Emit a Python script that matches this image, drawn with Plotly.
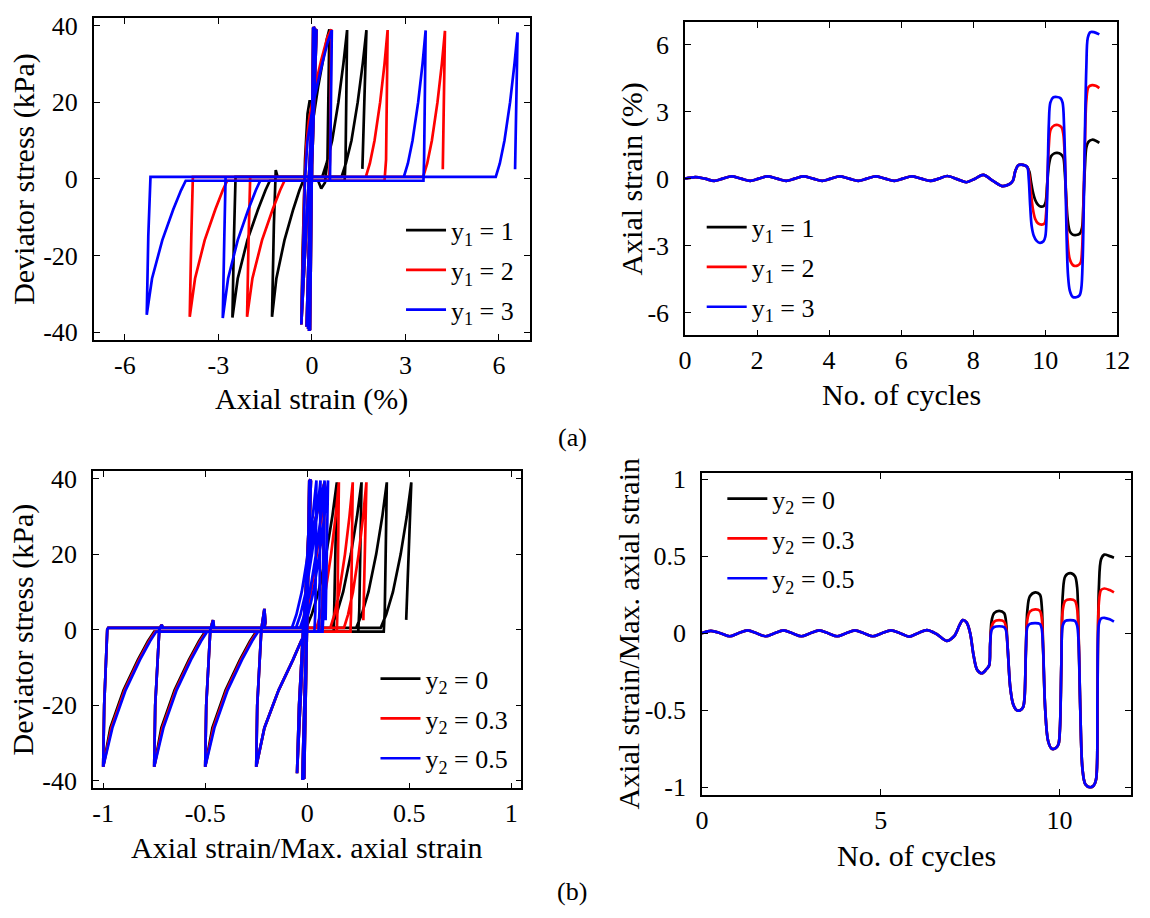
import plotly.graph_objects as go

# ================= (a) left: deviator stress vs axial strain (%) =================
# early cycles (shared by all three runs)
A_EARLY_STRAIN = [0.0, 0.04, -0.06, 0.05, -0.07, 0.05, -0.08, 0.06, -0.09, 0.06, -0.1, 0.07,
                  -0.12, 0.1, -0.17, 0.15, -0.34]
A_EARLY_STRESS = [0.0, 39.5, -39.5, 39.6, -39.6, 39.7, -39.7, 39.7, -39.7, 39.6, -39.6, 39.5,
                  -39.2, 39.3, -38.6, 39.0, -38.0]

A_Y1_1_STRAIN = [-0.3, -0.22, -0.14, -0.07, 0.0, 0.06, 0.2, 0.35, 0.48, 0.56,
                 0.5, 0.42, 0.3, 0.2,
                 -0.28, -0.40, -0.60, -0.88, -1.14, -1.28,
                 -1.22, -1.16, -1.1,
                 0.33, 0.47, 0.65, 0.85, 1.01, 1.13,
                 1.08, 1.05,
                 -1.35, -1.49, -1.73, -2.07, -2.38, -2.55,
                 -2.5, -2.45,
                 0.95, 1.09, 1.27, 1.47, 1.63, 1.75,
                 1.62]
A_Y1_1_STRESS = [-20, 5, 17, 20.5, 18, 16.5, 24, 31, 36.5, 39.0,
                 5, -1, -2.5, -0.5,
                 -0.5, -3, -8, -16, -26, -36,
                 -12, 2.3, 0.5,
                 0.5, 4, 10, 20, 30, 38.8,
                 5, -0.5,
                 -0.5, -3, -8, -16, -26, -36.2,
                 -15, 0.5,
                 0.5, 4, 10, 20, 30, 38.8,
                 2.6]

A_Y1_2_STRAIN = [-0.25, -0.18, -0.1, 0.1, 0.3, 0.5, 0.62,
                 0.58, 0.55,
                 -0.88, -1.02, -1.26, -1.60, -1.91, -2.08,
                 -2.03, -1.98,
                 1.73, 1.86, 2.01, 2.19, 2.33, 2.43,
                 2.38, 2.33,
                 -2.72, -2.86, -3.10, -3.44, -3.75, -3.92,
                 -3.87, -3.82,
                 3.57, 3.70, 3.85, 4.03, 4.17, 4.27,
                 4.2]
A_Y1_2_STRESS = [-5, 8.7, 15, 24, 31, 37, 39,
                 5, -0.5,
                 -0.5, -3, -8, -16, -26, -36,
                 -15, 0.5,
                 0.5, 4, 10, 20, 30, 38.8,
                 5, -0.5,
                 -0.5, -3, -8, -16, -26, -36,
                 -15, 0.5,
                 0.5, 4, 10, 20, 30, 38.6,
                 2.5]

A_Y1_3_STRAIN = [-0.28, -0.22, -0.14, -0.05, 0.05, 0.3, 0.5, 0.64,
                 0.6, 0.58,
                 -1.66, -1.80, -2.04, -2.38, -2.69, -2.86,
                 -2.81, -2.77,
                 2.95, 3.08, 3.23, 3.41, 3.55, 3.65,
                 3.6, 3.58,
                 -4.05, -4.20, -4.45, -4.80, -5.13, -5.30,
                 -5.25, -5.18,
                 5.9, 6.03, 6.18, 6.36, 6.5, 6.6,
                 6.52]
A_Y1_3_STRESS = [-15, 0, 10, 15, 20, 29, 35.5, 38.8,
                 5, -0.5,
                 -0.5, -3, -8, -16, -26, -36.3,
                 -15, 0.5,
                 0.5, 4, 10, 20, 30, 38.7,
                 5, -0.5,
                 -0.5, -3, -8, -16, -26, -35.5,
                 -15, 0.5,
                 0.5, 4, 10, 20, 30, 38.2,
                 2.5]

# ================= (a) right: axial strain (%) vs number of cycles =================
A_EARLY_CYC = [0, 0.29, 0.55, 0.81, 1.05, 1.29, 1.55, 1.81, 2.05, 2.29, 2.55, 2.81, 3.05, 3.29,
               3.55, 3.81, 4.05, 4.29, 4.55, 4.81, 5.05, 5.29, 5.55, 5.81, 6.05, 6.29, 6.55,
               6.81, 7.05, 7.28, 7.55, 7.81, 8.05, 8.28, 8.55, 8.80, 9.0, 9.1, 9.17, 9.25,
               9.33, 9.42, 9.5]
A_EARLY_EPS = [0, 0.07, 0, -0.1, 0, 0.1, 0, -0.1, 0, 0.1, 0, -0.1, 0, 0.1,
               0, -0.1, 0, 0.1, 0, -0.1, 0, 0.1, 0, -0.1, 0, 0.1, 0,
               -0.1, 0, 0.12, -0.02, -0.16, 0, 0.17, -0.1, -0.33, -0.25, -0.1, 0.35, 0.6,
               0.63, 0.6, 0.52]

A_Y1_1_CYC = [9.56, 9.6, 9.65, 9.72, 9.8, 9.88, 9.96, 10.01, 10.05, 10.1, 10.16, 10.25, 10.33,
              10.43, 10.5, 10.54, 10.58, 10.62, 10.68, 10.76, 10.86, 10.96, 11.02, 11.06,
              11.1, 11.14, 11.2, 11.3, 11.4, 11.5]
A_Y1_1_EPS = [0.3, -0.1, -0.55, -0.95, -1.17, -1.25, -1.22, -1.05, -0.3, 0.6, 1.0, 1.13, 1.15,
              1.1, 0.95, 0.3, -0.8, -1.8, -2.35, -2.5, -2.52, -2.45, -2.2, -1.0,
              0.5, 1.4, 1.65, 1.74, 1.7, 1.6]

A_Y1_2_CYC = [9.55, 9.6, 9.65, 9.72, 9.8, 9.9, 9.98, 10.02, 10.06, 10.1, 10.15, 10.25, 10.35,
              10.45, 10.5, 10.54, 10.58, 10.62, 10.68, 10.78, 10.9, 10.98, 11.02, 11.06,
              11.1, 11.14, 11.2, 11.3, 11.4, 11.5]
A_Y1_2_EPS = [0.2, -0.6, -1.3, -1.8, -2.0, -2.05, -2.0, -1.6, 0.0, 1.5, 2.2, 2.38, 2.4,
              2.3, 2.0, 1.0, -1.0, -2.8, -3.6, -3.88, -3.88, -3.75, -3.2, -1.0,
              1.5, 3.5, 4.1, 4.18, 4.15, 4.05]

A_Y1_3_CYC = [9.54, 9.58, 9.62, 9.68, 9.76, 9.85, 9.95, 10.0, 10.04, 10.07, 10.1, 10.14, 10.22,
              10.32, 10.42, 10.48, 10.52, 10.56, 10.59, 10.63, 10.68, 10.76, 10.86, 10.95,
              11.0, 11.04, 11.07, 11.1, 11.14, 11.18, 11.25, 11.35, 11.5]
A_Y1_3_EPS = [0.0, -1.2, -2.1, -2.55, -2.78, -2.87, -2.8, -2.6, -1.5, 0.5, 2.5, 3.4, 3.63,
              3.65, 3.6, 3.4, 2.4, 0.0, -2.5, -4.3, -5.0, -5.28, -5.3, -5.22,
              -4.9, -3.5, -1.0, 2.0, 5.0, 6.3, 6.55, 6.55, 6.45]

# ================= (b) left: deviator stress vs normalised axial strain =================
B_EARLY_NSTRAIN = [0.0, 0.01, -0.015, 0.012, -0.018, 0.014, -0.02, 0.015, -0.022, 0.016, -0.024,
                   0.018, -0.05, -0.04, -0.02, 0.0, 0.03, 0.06, 0.085, 0.075, 0.07,
                   -0.005, -0.03, -0.07, -0.14, -0.21, -0.25,
                   -0.245, -0.225, -0.21, -0.205, -0.21]
B_EARLY_STRESS = [0, 39.5, -39.5, 39.6, -39.6, 39.7, -39.7, 39.8, -39.8, 39.7, -39.6,
                  39.5, -38, -20, 0, 15, 27, 34, 39, 5, -0.5,
                  -0.5, -3, -8, -16, -26, -36.3,
                  -20, 0, 5.5, 2, 0.5]

B_Y2_0_NSTRAIN = [-0.005, 0.022, 0.055, 0.093, 0.123, 0.145, 0.135, 0.13,
                  -0.25, -0.28, -0.33, -0.40, -0.465, -0.5,
                  -0.495, -0.475, -0.462, -0.458,
                  0.116, 0.143, 0.176, 0.214, 0.244, 0.266, 0.255, 0.25,
                  -0.5, -0.53, -0.58, -0.65, -0.715, -0.75,
                  -0.745, -0.725, -0.714, -0.708,
                  0.24, 0.267, 0.30, 0.338, 0.368, 0.39, 0.38, 0.375,
                  -0.75, -0.78, -0.83, -0.90, -0.965, -1.0,
                  -0.995, -0.98, -0.975,
                  0.36, 0.387, 0.42, 0.458, 0.488, 0.51, 0.485]
B_Y2_0_STRESS = [0.5, 4, 10, 20, 30, 39, 5, -0.5,
                 -0.5, -3, -8, -16, -26, -36.3,
                 -20, 0, 2.5, 0.5,
                 0.5, 4, 10, 20, 30, 39, 5, -0.5,
                 -0.5, -3, -8, -16, -26, -36.3,
                 -20, 0, 1.3, 0.5,
                 0.5, 4, 10, 20, 30, 39, 5, -0.5,
                 -0.5, -3, -8, -16, -26, -36.3,
                 -20, 0, 0.5,
                 0.5, 4, 10, 20, 30, 39, 2.6]

B_Y2_03_NSTRAIN = [-0.025, -0.005, 0.019, 0.047, 0.069, 0.085, 0.078, 0.075,
                   -0.245, -0.275, -0.325, -0.395, -0.46, -0.5,
                   -0.495, -0.475, -0.462, -0.458,
                   0.045, 0.065, 0.089, 0.117, 0.139, 0.155, 0.148, 0.145,
                   -0.495, -0.525, -0.575, -0.645, -0.71, -0.75,
                   -0.745, -0.725, -0.714, -0.708,
                   0.113, 0.133, 0.157, 0.185, 0.207, 0.223, 0.215, 0.212,
                   -0.745, -0.775, -0.825, -0.895, -0.96, -1.0,
                   -0.995, -0.98, -0.975,
                   0.18, 0.2, 0.224, 0.252, 0.274, 0.29, 0.275]
B_Y2_03_STRESS = B_Y2_0_STRESS[:-1] + [2.5]

B_Y2_05_NSTRAIN = [-0.075, -0.053, -0.027, 0.003, 0.027, 0.045, 0.04, 0.035,
                   -0.24, -0.27, -0.32, -0.39, -0.455, -0.5,
                   -0.495, -0.475, -0.461, -0.456,
                   -0.055, -0.033, -0.007, 0.023, 0.047, 0.065, 0.06, 0.055,
                   -0.49, -0.52, -0.57, -0.64, -0.705, -0.75,
                   -0.745, -0.725, -0.713, -0.707,
                   -0.035, -0.013, 0.013, 0.043, 0.067, 0.085, 0.08, 0.075,
                   -0.74, -0.77, -0.82, -0.89, -0.955, -1.0,
                   -0.995, -0.98, -0.975,
                   -0.018, 0.004, 0.03, 0.06, 0.084, 0.102, 0.09]
B_Y2_05_STRESS = [0.5, 4, 10, 20, 30, 39.5, 5, -0.5,
                  -0.5, -3, -8, -16, -26, -36.3,
                  -20, 0, 2.5, 0.5,
                  0.5, 4, 10, 20, 30, 39.5, 5, -0.5,
                  -0.5, -3, -8, -16, -26, -36.3,
                  -20, 0, 1.3, 0.5,
                  0.5, 4, 10, 20, 30, 39.5, 5, -0.5,
                  -0.5, -3, -8, -16, -26, -36.3,
                  -20, 0, 0.5,
                  0.5, 4, 10, 20, 30, 39.5, 2.5]

# ================= (b) right: normalised axial strain vs number of cycles =================
B_EARLY_CYC = [0, 0.25, 0.52, 0.78, 1.02, 1.28, 1.53, 1.78, 2.03, 2.28, 2.53, 2.78, 3.03, 3.28,
               3.53, 3.78, 4.03, 4.28, 4.53, 4.78, 5.03, 5.29, 5.54, 5.79, 6.04, 6.29, 6.56,
               6.84, 7.05, 7.2, 7.29, 7.4, 7.5, 7.6, 7.7, 7.83, 7.95, 8.03, 8.06]
B_EARLY_NEPS = [0, 0.015, 0, -0.02, 0, 0.018, 0, -0.02, 0, 0.018, 0, -0.02, 0, 0.018,
                0, -0.02, 0, 0.018, 0, -0.02, 0, 0.018, 0, -0.022, 0, 0.02, -0.005,
                -0.05, -0.02, 0.05, 0.085, 0.07, 0.0, -0.15, -0.24, -0.26, -0.235, -0.21, -0.07]

B_LATE_CYC = [8.1, 8.17, 8.31, 8.45, 8.5, 8.55, 8.62, 8.7, 8.8, 8.9, 8.98, 9.02, 9.06,
              9.1, 9.17, 9.32, 9.45, 9.5, 9.54, 9.6, 9.68, 9.78, 9.9, 9.97, 10.01, 10.05,
              10.09, 10.16, 10.3, 10.43, 10.49, 10.53, 10.58, 10.64, 10.72, 10.85, 10.95,
              11.02, 11.06, 11.1, 11.16, 11.25, 11.4, 11.52]
B_Y2_0_NEPS = [0.08, 0.13, 0.145, 0.13, 0.08, -0.1, -0.35, -0.46, -0.5, -0.5, -0.48, -0.42, -0.1,
               0.15, 0.24, 0.265, 0.25, 0.18, -0.1, -0.5, -0.7, -0.75, -0.745, -0.72, -0.62, -0.2,
               0.25, 0.37, 0.39, 0.37, 0.3, 0.0, -0.5, -0.88, -0.98, -1.0, -0.99,
               -0.95, -0.4, 0.3, 0.48, 0.51, 0.5, 0.49]
B_Y2_03_NEPS = [0.04, 0.075, 0.085, 0.075, 0.04, -0.1, -0.35, -0.46, -0.5, -0.5, -0.48, -0.42, -0.1,
                0.09, 0.14, 0.155, 0.145, 0.1, -0.1, -0.5, -0.7, -0.75, -0.745, -0.72, -0.62, -0.2,
                0.15, 0.21, 0.22, 0.21, 0.16, 0.0, -0.5, -0.88, -0.98, -1.0, -0.99,
                -0.95, -0.4, 0.2, 0.28, 0.29, 0.28, 0.265]
B_Y2_05_NEPS = [0.02, 0.04, 0.045, 0.04, 0.02, -0.1, -0.35, -0.46, -0.5, -0.5, -0.48, -0.42, -0.1,
                0.04, 0.06, 0.065, 0.06, 0.03, -0.1, -0.5, -0.7, -0.75, -0.745, -0.72, -0.62, -0.2,
                0.05, 0.08, 0.085, 0.08, 0.05, -0.05, -0.5, -0.88, -0.98, -1.0, -0.99,
                -0.95, -0.4, 0.06, 0.095, 0.1, 0.09, 0.075]

# tick labels
A_STRAIN_TICKS = [-6, -3, 0, 3, 6]
A_STRAIN_TEXT = ["-6", "-3", "0", "3", "6"]
STRESS_TICKS = [-40, -20, 0, 20, 40]
STRESS_TEXT = ["-40", "-20", "0", "20", "40"]
A_CYC_TICKS = [0, 2, 4, 6, 8, 10, 12]
A_EPS_TICKS = [-6, -3, 0, 3, 6]
B_NSTRAIN_TICKS = [-1, -0.5, 0, 0.5, 1]
B_NSTRAIN_TEXT = ["-1", "-0.5", "0", "0.5", "1"]
B_CYC_TICKS = [0, 5, 10]

COLORS = ["#000000", "#FF0000", "#0000FF"]
Y1_NAMES = ["y<sub>1</sub> = 1", "y<sub>1</sub> = 2", "y<sub>1</sub> = 3"]
Y2_NAMES = ["y<sub>2</sub> = 0", "y<sub>2</sub> = 0.3", "y<sub>2</sub> = 0.5"]

FONT = "Liberation Serif, Times New Roman, serif"
LW = 2.7

fig = go.Figure()


def add_series(xs, ys, color, name, legend, xa, ya, shape, grp):
    line = dict(color=color, width=LW, shape=shape)
    if shape == "spline":
        line["smoothing"] = 0.9
    fig.add_trace(go.Scatter(x=xs, y=ys, mode="lines", line=line,
                             name=name, legend=legend, legendgroup=grp,
                             xaxis=xa, yaxis=ya))


a_left = [(A_Y1_1_STRAIN, A_Y1_1_STRESS), (A_Y1_2_STRAIN, A_Y1_2_STRESS), (A_Y1_3_STRAIN, A_Y1_3_STRESS)]
for i, ((xs, ys), c, n) in enumerate(zip(a_left, COLORS, Y1_NAMES)):
    add_series(A_EARLY_STRAIN + xs, A_EARLY_STRESS + ys, c, n, "legend", "x", "y", "linear", "a1%d" % i)

a_right = [(A_Y1_1_CYC, A_Y1_1_EPS), (A_Y1_2_CYC, A_Y1_2_EPS), (A_Y1_3_CYC, A_Y1_3_EPS)]
for i, ((xs, ys), c, n) in enumerate(zip(a_right, COLORS, Y1_NAMES)):
    add_series(A_EARLY_CYC + xs, A_EARLY_EPS + ys, c, n, "legend2", "x2", "y2", "spline", "a2%d" % i)

b_left = [(B_Y2_0_NSTRAIN, B_Y2_0_STRESS), (B_Y2_03_NSTRAIN, B_Y2_03_STRESS),
          (B_Y2_05_NSTRAIN, B_Y2_05_STRESS)]
for i, ((xs, ys), c, n) in enumerate(zip(b_left, COLORS, Y2_NAMES)):
    add_series(B_EARLY_NSTRAIN + xs, B_EARLY_STRESS + ys, c, n, "legend3", "x3", "y3", "linear", "b1%d" % i)

b_right = [B_Y2_0_NEPS, B_Y2_03_NEPS, B_Y2_05_NEPS]
for i, (ys, c, n) in enumerate(zip(b_right, COLORS, Y2_NAMES)):
    add_series(B_EARLY_CYC + B_LATE_CYC, B_EARLY_NEPS + ys, c, n, "legend4", "x4", "y4", "spline", "b2%d" % i)


def ax(domain, rng, tickvals, ticktext, anchor, standoff):
    return dict(domain=domain, range=rng, tickvals=tickvals, ticktext=ticktext, anchor=anchor,
                showline=True, linecolor="black", linewidth=1.5, mirror="ticks",
                ticks="inside", ticklen=6, tickwidth=1.2, tickcolor="black",
                showgrid=False, zeroline=False, ticklabelstandoff=standoff,
                tickfont=dict(family=FONT, size=26, color="black"))


W, H = 1150, 918
def px(v): return v / W
def py(v): return 1 - v / H

XSO, YSO = 1, 9
fig.update_layout(
    width=W, height=H, margin=dict(l=0, r=0, t=0, b=0),
    paper_bgcolor="white", plot_bgcolor="white",
    font=dict(family=FONT, size=26, color="black"),
    xaxis=ax([px(88.3), px(532.3)], [-7, 7], A_STRAIN_TICKS, A_STRAIN_TEXT, "y", XSO),
    yaxis=ax([py(337.3), py(10)], [-42, 42], STRESS_TICKS, STRESS_TEXT, "x", YSO),
    xaxis2=ax([px(690), px(1130)], [0, 12], A_CYC_TICKS, [str(v) for v in A_CYC_TICKS], "y2", XSO),
    yaxis2=ax([py(332.7), py(14.3)], [-7, 7], A_EPS_TICKS, A_STRAIN_TEXT, "x2", YSO),
    xaxis3=ax([px(87.5), px(523.6)], [-1.05, 1.05], B_NSTRAIN_TICKS, B_NSTRAIN_TEXT, "y3", XSO),
    yaxis3=ax([py(793.3), py(470.7)], [-42, 42], STRESS_TICKS, STRESS_TEXT, "x3", YSO),
    xaxis4=ax([px(707.2), px(1144)], [0, 12], B_CYC_TICKS, [str(v) for v in B_CYC_TICKS], "y4", XSO),
    yaxis4=ax([py(800), py(472.7)], [-1.05, 1.04], B_NSTRAIN_TICKS, B_NSTRAIN_TEXT, "x4", YSO),
)

leg = dict(xanchor="left", yanchor="top", bgcolor="rgba(0,0,0,0)", borderwidth=0,
           font=dict(family=FONT, size=26, color="black"), itemwidth=40, tracegroupgap=3)
fig.update_layout(
    showlegend=True,
    legend=dict(leg, x=px(401), y=py(202)),
    legend2=dict(leg, x=px(707), y=py(199)),
    legend3=dict(leg, x=px(375), y=py(658)),
    legend4=dict(leg, x=px(728), y=py(475)),
)

titles = [
    ("Axial strain (%)", 310.3, 398, 0, 30),
    ("Deviator stress (kPa)", 17, 174, -90, 30),
    ("No. of cycles", 910, 393, 0, 30),
    ("Axial strain (%)", 636, 173.5, -90, 30),
    ("Axial strain/Max. axial strain", 305.7, 853, 0, 30),
    ("Deviator stress (kPa)", 16, 632, -90, 30),
    ("No. of cycles", 925.6, 862, 0, 30),
    ("Axial strain/Max. axial strain", 633, 636, -90, 30),
    ("(a)", 575, 437, 0, 26),
    ("(b)", 575, 898, 0, 26),
]
for text, x, y, ang, size in titles:
    fig.add_annotation(text=text, x=px(x), y=py(y), xref="paper", yref="paper",
                       xanchor="center", yanchor="middle", showarrow=False, textangle=ang,
                       font=dict(family=FONT, size=size, color="black"))

fig.write_html("out.html")
